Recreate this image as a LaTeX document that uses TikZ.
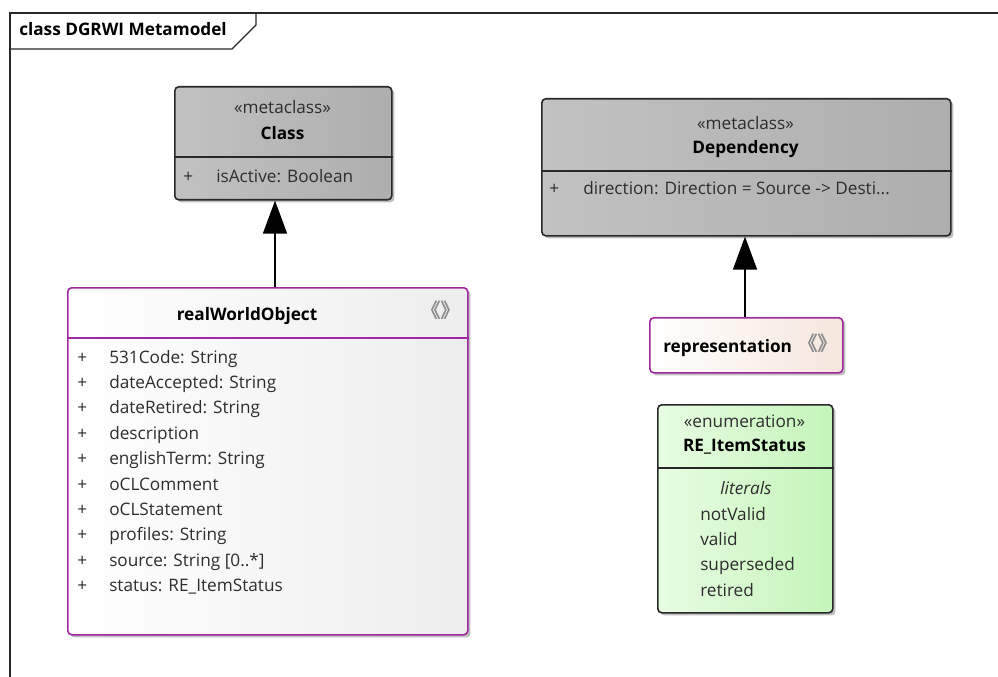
\documentclass[tikz,border=0pt]{standalone}
\usepackage{fontspec}
\setmainfont{Open Sans}
\newfontfamily\cjk[AutoFakeBold=2.5]{Noto Sans CJK SC}
\usepackage{xcolor}
\usetikzlibrary{arrows.meta, positioning, shadows}

\definecolor{umlline}{RGB}{40,40,40}
\definecolor{umltext}{RGB}{45,45,45}
\definecolor{stereoline}{RGB}{160,40,160}
\definecolor{enumleft}{RGB}{232,252,226}
\definecolor{enumright}{RGB}{196,245,186}
\definecolor{repright}{RGB}{245,230,220}

\newcommand{\ltgt}{{\cjk\bfseries\fontsize{14.5}{16}\selectfont\color{gray!90}《》}}

\begin{document}
\begin{tikzpicture}[x=0.75pt, y=-0.75pt,
    font=\fontsize{12.9}{15}\selectfont,
    txt/.style={inner sep=0pt, text height=1.6ex, text depth=0.45ex, text=umltext},
    attr/.style={txt, anchor=west},
    umlname/.style={txt, text=black, font=\fontsize{12.9}{15}\selectfont\bfseries},
    boxshadow/.style={drop shadow={shadow xshift=2pt, shadow yshift=-2pt, opacity=0.25, fill=black}},
    metabox/.style={draw=umlline, line width=1.2pt, rounded corners=3pt, anchor=north west,
        inner sep=0pt, left color=gray!48, right color=gray!64, boxshadow},
    enumbox/.style={metabox, left color=enumleft, right color=enumright},
    stereobox/.style={draw=stereoline, line width=1.2pt, rounded corners=3pt, anchor=north west,
        inner sep=0pt, left color=white, right color=gray!14, boxshadow},
    compsep/.style={draw=umlline, line width=1.2pt},
    gen/.style={draw=black, line width=1.1pt, -{Triangle[width=18pt, length=24.75pt]}}
]
    \useasboundingbox (0,0) rectangle (998,677);

    % diagram frame
    \draw[line width=0.8pt, draw=umlline] (998,13) -- (10,13) -- (10,677);
    \draw[line width=0.8pt, draw=umlline] (10,49) -- (232,49) -- (256,25) -- (256,13);
    \node[umlname, anchor=west] (title) at (19,31) {class DGRWI Metamodel};

    % boxes
    \node[metabox, minimum width=162.75pt, minimum height=84.75pt] (cls) at (174,86) {};
    \node[metabox, minimum width=306.75pt, minimum height=102.75pt] (dep) at (541,98) {};
    \node[stereobox, minimum width=300pt, minimum height=260.25pt] (rwo) at (67,287) {};
    \node[stereobox, right color=repright, minimum width=144.75pt, minimum height=41.25pt] (rep) at (649,317) {};
    \node[enumbox, minimum width=131.25pt, minimum height=156pt] (enm) at (657,404) {};

    % compartments
    \draw[compsep] (cls.west |- 0,157) -- (cls.east |- 0,157);
    \draw[compsep] (dep.west |- 0,171) -- (dep.east |- 0,171);
    \draw[compsep, draw=stereoline] (rwo.west |- 0,338) -- (rwo.east |- 0,338);
    \draw[compsep] (enm.west |- 0,468) -- (enm.east |- 0,468);

    % Class
    \node[txt] (clsst) at (282.5,109) {«metaclass»};
    \node[umlname] (clsnm) at (282.5,135) {Class};
    \node[attr] (clsp) at (183,178) {+};
    \node[attr] (clsa) at (216,178) {isActive: Boolean};

    % Dependency
    \node[txt] (depst) at (745.5,125) {«metaclass»};
    \node[umlname] (depnm) at (745.5,149) {Dependency};
    \node[attr] (depp) at (549,190) {+};
    \node[attr] (depa) at (583,190) {direction: Direction = Source -> Desti...};

    % realWorldObject
    \node[umlname] (rwonm) at (247,316) {realWorldObject};
    \node[txt, anchor=east] (rwolg) at (460,313) {\ltgt};
    \foreach \a [count=\i from 0] in {531Code: String, dateAccepted: String, dateRetired: String,
        description, englishTerm: String, oCLComment, oCLStatement, profiles: String,
        {source: String [0..*]}, status: RE\_ItemStatus} {
        \node[attr] (rwop\i) at (77,359+25.4*\i) {+};
        \node[attr] (rwoa\i) at (109,359+25.4*\i) {\a};
    }

    % representation
    \node[umlname, anchor=west] (repnm) at (663,348) {representation};
    \node[txt, anchor=east] (replg) at (837,346) {\ltgt};

    % RE_ItemStatus
    \node[txt] (enmst) at (744.5,423) {«enumeration»};
    \node[umlname] (enmnm) at (744.5,447) {RE\_ItemStatus};
    \node[txt, font=\fontsize{12.9}{15}\selectfont\itshape] (enmlt) at (746,490) {literals};
    \foreach \l [count=\i from 0] in {notValid, valid, superseded, retired} {
        \node[attr] (enml\i) at (700,516+25.3*\i) {\l};
    }

    % extensions
    \draw[gen] (rwo.north -| 275,0) -- (cls.south -| 275,0);
    \draw[gen] (rep.north -| 745,0) -- (dep.south -| 745,0);
\end{tikzpicture}
\end{document}
